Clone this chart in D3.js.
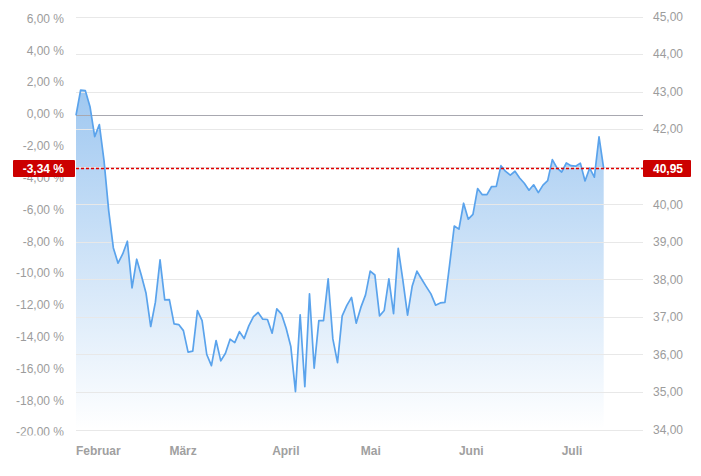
<!DOCTYPE html>
<html>
<head>
<meta charset="utf-8">
<script src="https://cdn.jsdelivr.net/npm/d3@7/dist/d3.min.js"></script>
<style>
  html, body { margin: 0; padding: 0; background: #fff; }
  svg { display: block; font-family: Arial, "Liberation Sans", sans-serif; }
</style>
</head>
<body>
<svg id="chart" width="701" height="476"></svg>
<script>
// ---- data (performance in % relative to first value) ----
const performance = [
  0.00, 1.60, 1.56, 0.55, -1.33, -0.58, -2.84, -5.98, -8.33, -9.29,
  -8.71, -7.91, -10.84, -9.04, -10.07, -11.18, -13.27, -11.74, -9.08, -11.60,
  -11.58, -13.11, -13.15, -13.53, -14.88, -14.82, -12.27, -12.90, -15.03, -15.73,
  -14.15, -15.43, -14.95, -14.07, -14.28, -13.59, -14.03, -13.23, -12.65, -12.39,
  -12.81, -12.83, -13.69, -12.16, -12.49, -13.38, -14.53, -17.36, -12.54, -17.05,
  -11.22, -15.89, -12.90, -12.90, -10.28, -14.05, -15.54, -12.60, -11.94, -11.44,
  -13.06, -12.07, -11.28, -9.79, -10.03, -12.60, -12.26, -10.28, -12.46, -8.36,
  -10.37, -12.56, -10.72, -9.79, -10.28, -10.76, -11.22, -11.93, -11.79, -11.75,
  -9.40, -6.95, -7.15, -5.52, -6.52, -6.22, -4.60, -4.98, -4.98, -4.47,
  -4.46, -3.16, -3.52, -3.75, -3.51, -3.93, -4.26, -4.70, -4.36, -4.85,
  -4.38, -4.10, -2.78, -3.30, -3.56, -2.99, -3.16, -3.19, -3.00, -4.12,
  -3.31, -3.88, -1.35, -3.34
];
const lastPrice = 40.95;
const lastPercent = -3.34;
const months = ["Februar", "März", "April", "Mai", "Juni", "Juli"];
const monthStartIndex = [0, 20, 42, 61, 82, 104];
const priceTicks = [34, 35, 36, 37, 38, 39, 40, 41, 42, 43, 44, 45];
const percentTicks = [6, 4, 2, 0, -2, -4, -6, -8, -10, -12, -14, -16, -18, -20];

// ---- setup ----
const svg = d3.select("#chart");
const basePrice = lastPrice / (1 + lastPercent / 100);
const fmt = d3.formatLocale({ decimal: ",", thousands: ".", grouping: [3], currency: ["", " €"], minus: "-" });
const f2 = fmt.format(".2f");

const x = d3.scaleLinear().domain([0, performance.length - 1]).range([76, 603.7]);
const yPrice = d3.scaleLinear().domain([34, 45]).range([429.5, 16.5]);
const yPct = p => yPrice(basePrice * (1 + p / 100));
const plotLeft = 76, plotRight = 643, plotBottom = 429.5;

const defs = svg.append("defs");
const grad = defs.append("linearGradient").attr("id", "areaGrad")
  .attr("gradientUnits", "userSpaceOnUse")
  .attr("x1", 0).attr("x2", 0).attr("y1", yPct(d3.max(performance))).attr("y2", plotBottom);
grad.append("stop").attr("offset", "0%").attr("stop-color", "#5aa0e6").attr("stop-opacity", 0.58);
grad.append("stop").attr("offset", "100%").attr("stop-color", "#5aa0e6").attr("stop-opacity", 0.0);
defs.append("clipPath").attr("id", "leftClip").append("rect")
  .attr("x", 0).attr("y", 0).attr("width", 80).attr("height", 435.5);

// ---- area ----
const area = d3.area().x((d, i) => x(i)).y0(plotBottom).y1(d => yPct(d));
svg.append("path").datum(performance).attr("d", area).attr("fill", "url(#areaGrad)");

// ---- grid ----
svg.append("g").selectAll("line").data(priceTicks).join("line")
  .attr("x1", plotLeft).attr("x2", plotRight)
  .attr("y1", d => Math.round(yPrice(d)) + 0.5).attr("y2", d => Math.round(yPrice(d)) + 0.5)
  .attr("stroke", "#e8e8e8").attr("stroke-width", 1);

// zero line
svg.append("line")
  .attr("x1", plotLeft).attr("x2", plotRight)
  .attr("y1", Math.round(yPct(0)) + 0.5).attr("y2", Math.round(yPct(0)) + 0.5)
  .attr("stroke", "#a8a8b0").attr("stroke-width", 1);

// ---- line ----
const line = d3.line().x((d, i) => x(i)).y(d => yPct(d));
svg.append("path").datum(performance).attr("d", line)
  .attr("fill", "none").attr("stroke", "#5aa3ec").attr("stroke-width", 1.7)
  .attr("stroke-linejoin", "round");

// ---- axes ----
const rightAxis = d3.axisRight(yPrice).tickValues(priceTicks).tickSize(0).tickPadding(0)
  .tickFormat(d => f2(d));
const gR = svg.append("g").attr("transform", "translate(653,0)").call(rightAxis);
gR.select(".domain").remove();
gR.selectAll("text").attr("fill", "#9c9c9c").attr("font-size", 12)
  .attr("font-family", "Arial, 'Liberation Sans', sans-serif");

const pctScale = d3.scaleLinear().domain([-20, 6]).range([yPct(-20), yPct(6)]);
const leftAxis = d3.axisLeft(pctScale).tickValues(percentTicks).tickSize(0).tickPadding(0)
  .tickFormat(d => f2(d) + " %");
const gLWrap = svg.append("g").attr("clip-path", "url(#leftClip)");
const gL = gLWrap.append("g").attr("transform", "translate(64,-1.5)").call(leftAxis);
gL.select(".domain").remove();
gL.selectAll("text").attr("fill", "#9c9c9c").attr("font-size", 12)
  .attr("font-family", "Arial, 'Liberation Sans', sans-serif");

// month labels
svg.append("g").selectAll("text").data(months).join("text")
  .attr("x", (d, i) => x(monthStartIndex[i]))
  .attr("y", 455)
  .attr("fill", "#a0a0a0").attr("font-size", 12).attr("font-weight", "bold")
  .text(d => d);

// ---- last value marker ----
const yLast = yPct(lastPercent);
svg.append("line")
  .attr("x1", 66).attr("x2", plotRight)
  .attr("y1", yLast).attr("y2", yLast)
  .attr("stroke", "#e00000").attr("stroke-width", 1.5).attr("stroke-dasharray", "3,2");

svg.append("rect").attr("x", 13).attr("y", yLast - 8.5).attr("width", 62).attr("height", 17)
  .attr("fill", "#cc0000").attr("rx", 1);
svg.append("text").attr("x", 64).attr("y", yLast).attr("dy", "0.35em")
  .attr("text-anchor", "end").attr("fill", "#fff").attr("font-size", 12).attr("font-weight", "bold")
  .text(f2(lastPercent) + " %");

svg.append("rect").attr("x", 643).attr("y", yLast - 8.5).attr("width", 48).attr("height", 17)
  .attr("fill", "#cc0000").attr("rx", 1);
svg.append("text").attr("x", 653).attr("y", yLast).attr("dy", "0.35em")
  .attr("fill", "#fff").attr("font-size", 12).attr("font-weight", "bold")
  .text(f2(lastPrice));
</script>
</body>
</html>
